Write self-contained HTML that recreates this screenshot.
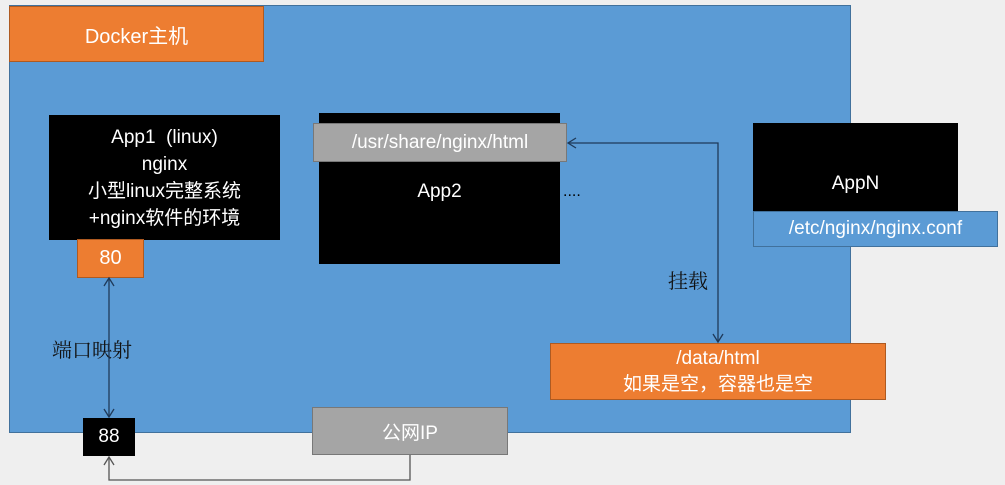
<!DOCTYPE html>
<html><head><meta charset="utf-8"><style>
body{margin:0;width:1005px;height:485px;background:#efefef;position:relative;overflow:hidden;font-family:"Liberation Sans","Noto Sans CJK SC",sans-serif;}
div{position:absolute;box-sizing:border-box;}
.c{display:flex;align-items:center;justify-content:center;text-align:center;color:#fff;}
</style></head><body>
<div style="left:9px;top:5px;width:842px;height:428px;background:#5b9bd5;border:1px solid #41719c;"></div>
<div class="c" style="left:9px;top:6px;width:255px;height:56px;background:#ed7d31;border:1px solid #ae5a21;font-size:20px;">Docker主机</div>
<div class="c" style="left:49px;top:115px;width:231px;height:125px;background:#000;font-size:19px;line-height:27px;">App1 &nbsp;(linux)<br>nginx<br>小型linux完整系统<br>+nginx软件的环境</div>
<div class="c" style="left:77px;top:239px;width:67px;height:39px;background:#ed7d31;border:1px solid #ae5a21;font-size:20px;">80</div>
<div class="c" style="left:319px;top:113px;width:241px;height:151px;background:#000;font-size:19px;padding-top:6px;">App2</div>
<div class="c" style="left:313px;top:123px;width:254px;height:39px;background:#a5a5a5;border:1px solid #787878;font-size:19px;">/usr/share/nginx/html</div>
<div style="left:563px;top:183px;color:#000;font-size:16px;">....</div>
<div class="c" style="left:753px;top:123px;width:205px;height:88px;background:#000;font-size:19px;padding-top:34px;">AppN</div>
<div class="c" style="left:753px;top:211px;width:245px;height:36px;background:#5b9bd5;border:1px solid #41719c;font-size:19px;">/etc/nginx/nginx.conf</div>
<div class="c" style="left:550px;top:343px;width:336px;height:57px;background:#ed7d31;border:1px solid #ae5a21;font-size:19px;line-height:26px;">/data/html<br>如果是空，容器也是空</div>
<div class="c" style="left:83px;top:418px;width:52px;height:38px;background:#000;font-size:19px;">88</div>
<div class="c" style="left:312px;top:407px;width:196px;height:48px;background:#a5a5a5;border:1px solid #787878;font-size:19px;">公网IP</div>
<div style="left:52px;top:334px;font-size:20px;color:#111;font-family:'Liberation Serif','Noto Serif CJK SC',serif;">端口映射</div>
<div style="left:668px;top:265px;font-size:20px;color:#111;font-family:'Liberation Serif','Noto Serif CJK SC',serif;">挂载</div>
<svg width="1005" height="485" style="position:absolute;left:0;top:0" fill="none" stroke-width="1.3">
<g stroke="#1f3a5a">
<line x1="109" y1="279" x2="109" y2="417"/>
<polyline points="104,286 109,278 114,286"/>
<polyline points="104,409 109,417 114,409"/>
<polyline points="568,143 718,143 718,342"/>
<polyline points="576,138 568,143 576,148"/>
<polyline points="713,334 718,342 723,334"/>
</g>
<g stroke="#555">
<polyline points="410,455 410,480 109,480 109,457"/>
<polyline points="104,465 109,457 114,465"/>
</g>
</svg>
</body></html>
